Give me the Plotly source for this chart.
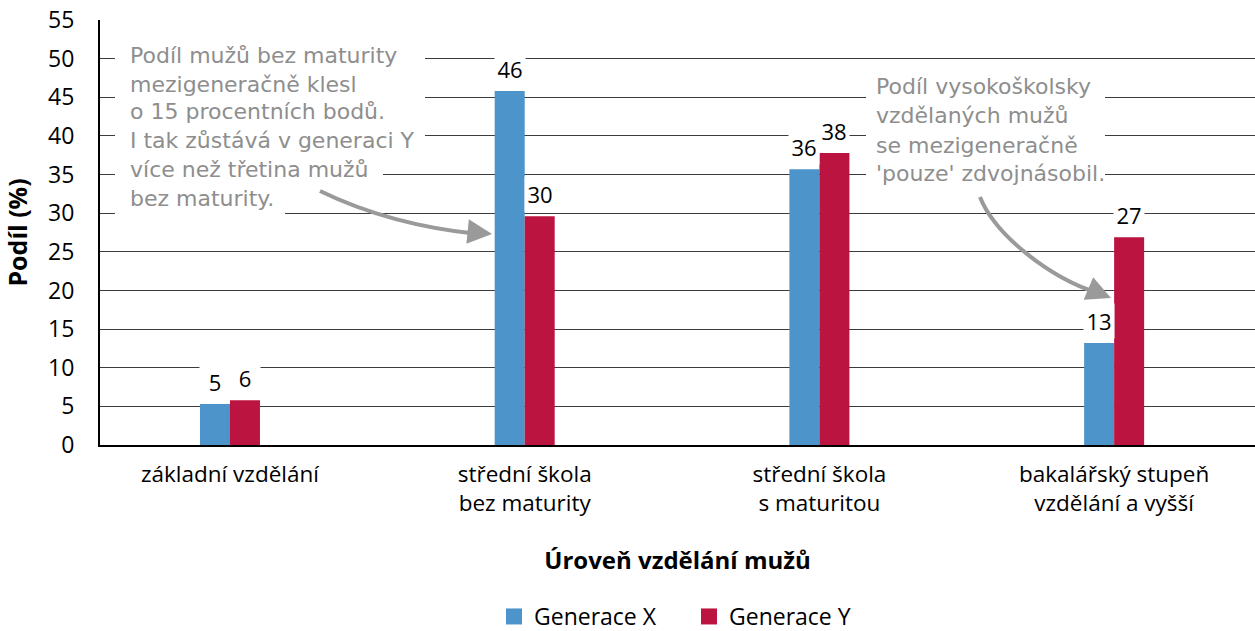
import plotly.graph_objects as go

# ---------------- data ----------------
categories = [
    "základní vzdělání",
    "střední škola<br>bez maturity",
    "střední škola<br>s maturitou",
    "bakalářský stupeň<br>vzdělání a vyšší",
]
gen_x = [5.3, 45.8, 35.7, 13.2]
gen_y = [5.8, 29.6, 37.8, 26.9]
series_names = ["Generace X", "Generace Y"]
y_ticks = list(range(0, 56, 5))

note_left = [
    "Podíl mužů bez maturity",
    "mezigeneračně klesl",
    "o 15 procentních bodů.",
    "I tak zůstává v generaci Y",
    "více než třetina mužů",
    "bez maturity.",
]
note_right = [
    "Podíl vysokoškolsky",
    "vzdělaných mužů",
    "se mezigeneračně",
    "'pouze' zdvojnásobil.",
]

# ---------------- style ----------------
COL_X = "#4C94C9"
COL_Y = "#BC1440"
NOTE_COL = "#8E8E8E"
ARROW_COL = "#9A9A9A"
FONT = "Open Sans"
NOTE_FONT = "DejaVu Sans"

W, H = 1255, 631
PL, PT, PW, PH = 100, 20, 1155, 425


def px(x):
    return (x - PL) / PW


def py(y):
    return (PT + PH - y) / PH


fig = go.Figure()
fig.add_trace(go.Bar(x=categories, y=gen_x, name=series_names[0],
                     marker=dict(color=COL_X, line=dict(width=0)),
                     showlegend=False))
fig.add_trace(go.Bar(x=categories, y=gen_y, name=series_names[1],
                     marker=dict(color=COL_Y, line=dict(width=0)),
                     showlegend=False))
# legend entries with larger square swatches
for name, col in zip(series_names, [COL_X, COL_Y]):
    fig.add_trace(go.Scatter(x=[None], y=[None], mode="markers", name=name,
                             marker=dict(symbol="square", size=16, color=col)))

annotations = []
# data labels
for vals, shift in ((gen_x, -15), (gen_y, 15)):
    for c, v in zip(categories, vals):
        annotations.append(dict(
            x=c, y=v, xref="x", yref="y", text=f"{v:.0f}", showarrow=False,
            xshift=shift, yshift=22, yanchor="middle", xanchor="center",
            bgcolor="white", borderpad=2, width=26,
            font=dict(family=FONT, size=22, color="black")))

# note texts
left_lines_y = [55, 84, 112, 140, 169, 198]
for t, yy in zip(note_left, left_lines_y):
    annotations.append(dict(
        x=px(128), y=py(yy), xref="paper", yref="paper", text=t,
        showarrow=False, xanchor="left", yanchor="middle",
        font=dict(family=NOTE_FONT, size=22, color=NOTE_COL)))
right_lines_y = [87, 116, 145, 173]
for t, yy in zip(note_right, right_lines_y):
    annotations.append(dict(
        x=px(874), y=py(yy), xref="paper", yref="paper", text=t,
        showarrow=False, xanchor="left", yanchor="middle",
        font=dict(family=NOTE_FONT, size=22, color=NOTE_COL)))

# arrowheads
annotations.append(dict(x=px(492), y=py(234), xref="paper", yref="paper",
                        ax=-20, ay=-2, text="", showarrow=True, arrowhead=2,
                        arrowsize=1.4, arrowwidth=3.5, arrowcolor=ARROW_COL))
annotations.append(dict(x=px(1111), y=py(298), xref="paper", yref="paper",
                        ax=-19, ay=-8, text="", showarrow=True, arrowhead=2,
                        arrowsize=1.4, arrowwidth=3.5, arrowcolor=ARROW_COL))

shapes = []
# white masks behind note text (gridline breaks)
for x0, x1, y0, y1 in [(115, 425, 40, 150), (115, 383, 150, 190),
                       (115, 285, 190, 222), (866, 1105, 72, 188)]:
    shapes.append(dict(type="rect", xref="paper", yref="paper",
                       x0=px(x0), x1=px(x1), y0=py(y1), y1=py(y0),
                       fillcolor="white", line=dict(width=0), layer="above"))


def path(points, cmd):
    parts = [f"{px(x):.5f},{py(y):.5f}" for x, y in points]
    return f"M {parts[0]} {cmd} " + " ".join(parts[1:])


shapes.append(dict(type="path", xref="paper", yref="paper",
                   path=path([(320, 191), (390, 225), (478, 234)], "Q"),
                   line=dict(color=ARROW_COL, width=4), layer="above"))
shapes.append(dict(type="path", xref="paper", yref="paper",
                   path=path([(980, 197), (995, 235), (1050, 278), (1098, 293)], "C"),
                   line=dict(color=ARROW_COL, width=4), layer="above"))

fig.update_layout(
    width=W, height=H,
    margin=dict(l=PL, r=W - PL - PW, t=PT, b=H - PT - PH, pad=0,
                autoexpand=False),
    paper_bgcolor="white", plot_bgcolor="white",
    font=dict(family=FONT, size=22, color="black"),
    barmode="group", bargap=0.7964, bargroupgap=0,
    showlegend=True,
    legend=dict(orientation="h", x=px(494), xanchor="left", y=py(638),
                yanchor="bottom", font=dict(family=FONT, size=23),
                itemwidth=30, entrywidth=150, bgcolor="rgba(0,0,0,0)"),
    annotations=annotations,
    shapes=shapes,
)
fig.update_xaxes(
    type="category", range=[-0.441, 3.478], automargin=False,
    showline=True, linecolor="black", linewidth=2,
    showgrid=False, ticks="", tickfont=dict(family=FONT, size=22.5),
    ticklabelstandoff=8,
    title=dict(text="<b>Úroveň vzdělání mužů</b>", standoff=35,
               font=dict(family=FONT, size=24)),
)
fig.update_yaxes(
    range=[0, 55], tickvals=y_ticks, ticktext=[str(v) for v in y_ticks],
    automargin=False,
    showline=True, linecolor="black", linewidth=2,
    showgrid=True, gridcolor="#3C3C3C", gridwidth=1, zeroline=False,
    ticks="", tickfont=dict(family=FONT, size=23), ticklabelstandoff=19,
    title=dict(text="<b>Podíl (%)</b>", standoff=14,
               font=dict(family=FONT, size=25)),
)

fig.write_html(
    "out.html",
    config={"displayModeBar": False},
    post_script="document.body.style.margin='0';"
                "document.body.style.overflow='hidden';",
)
